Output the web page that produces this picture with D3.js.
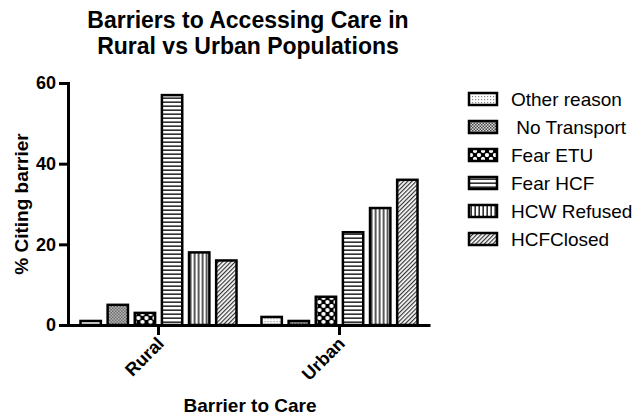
<!DOCTYPE html>
<html>
<head>
<meta charset="utf-8">
<script src="https://cdn.jsdelivr.net/npm/d3@7"></script>
<style>
  body { margin: 0; background: #fff; }
  text { font-family: "Liberation Sans", Arial, sans-serif; }
</style>
</head>
<body>
<div id="chart"></div>
<script>
// data
var groups = ["Rural", "Urban"];
var series = ["Other reason", " No Transport", "Fear ETU", "Fear HCF", "HCW Refused", "HCFClosed"];
var rural = [1, 5, 3, 57, 18, 16];
var urban = [2, 1, 7, 23, 29, 36];
var yTicks = [0, 20, 40, 60];

function init(){
    var w = 640, h = 419;
    var left = 68, right = 430, top = 83, bottom = 325;

    var svg = d3.select("#chart").append("svg")
        .attr("width", w).attr("height", h);

    // fill patterns, one per series
    var defs = svg.append("defs");
    var pats = ["p0", "p1", "p2", "p3", "p4", "p5"];

    var p = defs.append("pattern").attr("id", "p0").attr("patternUnits", "userSpaceOnUse")
        .attr("width", 3).attr("height", 3);
    p.append("rect").attr("width", 3).attr("height", 3).attr("fill", "#fff");
    p.append("rect").attr("width", 1.2).attr("height", 1.2).attr("fill", "#888");

    p = defs.append("pattern").attr("id", "p1").attr("patternUnits", "userSpaceOnUse")
        .attr("width", 3).attr("height", 3);
    p.append("rect").attr("width", 3).attr("height", 3).attr("fill", "#ddd");
    p.append("rect").attr("width", 1.5).attr("height", 1.5).attr("fill", "#444");
    p.append("rect").attr("x", 1.5).attr("y", 1.5).attr("width", 1.5).attr("height", 1.5).attr("fill", "#444");

    p = defs.append("pattern").attr("id", "p2").attr("patternUnits", "userSpaceOnUse")
        .attr("width", 8).attr("height", 8);
    p.append("rect").attr("width", 8).attr("height", 8).attr("fill", "#000");
    p.append("circle").attr("cx", 2).attr("cy", 6).attr("r", 2.1).attr("fill", "#fff");
    p.append("circle").attr("cx", 6).attr("cy", 2).attr("r", 2.1).attr("fill", "#fff");

    p = defs.append("pattern").attr("id", "p3").attr("patternUnits", "userSpaceOnUse")
        .attr("width", 4).attr("height", 4);
    p.append("rect").attr("width", 4).attr("height", 4).attr("fill", "#fff");
    p.append("rect").attr("y", 1.5).attr("width", 4).attr("height", 1.3).attr("fill", "#000");

    p = defs.append("pattern").attr("id", "p4").attr("patternUnits", "userSpaceOnUse")
        .attr("width", 4).attr("height", 4);
    p.append("rect").attr("width", 4).attr("height", 4).attr("fill", "#fff");
    p.append("rect").attr("x", 1.5).attr("width", 1.3).attr("height", 4).attr("fill", "#000");

    p = defs.append("pattern").attr("id", "p5").attr("patternUnits", "userSpaceOnUse")
        .attr("width", 3).attr("height", 3).attr("patternTransform", "rotate(45)");
    p.append("rect").attr("width", 3).attr("height", 3).attr("fill", "#fff");
    p.append("rect").attr("width", 1.2).attr("height", 3).attr("fill", "#333");

    var x0 = d3.scaleBand().domain(groups).range([left, right])
        .paddingInner(0.138).paddingOuter(0.069);
    var x1 = d3.scaleBand().domain(series).range([0, x0.bandwidth()])
        .paddingInner(0.25).paddingOuter(0);
    var y = d3.scaleLinear().domain([0, 60]).range([bottom, top]);

    var data = [rural, urban];

    var g = svg.selectAll("g.grp")
        .data(groups)
        .enter()
        .append("g")
        .attr("class", "grp")
        .attr("transform", function(d){ return "translate(" + x0(d) + ",0)"; });

    g.selectAll("rect")
        .data(function(d, i){
            return series.map(function(s, j){ return {s: s, j: j, v: data[i][j]}; });
        })
        .enter()
        .append("rect")
        .attr("x", function(d){ return x1(d.s); })
        .attr("y", function(d){ return y(d.v); })
        .attr("width", x1.bandwidth())
        .attr("height", function(d){ return bottom - y(d.v); })
        .attr("fill", function(d){ return "url(#" + pats[d.j] + ")"; })
        .attr("stroke", "#000")
        .attr("stroke-width", 2.5);

    // y axis
    var yAxis = svg.append("g")
        .attr("transform", "translate(" + left + ",0)")
        .call(d3.axisLeft(y).tickValues(yTicks).tickSize(9).tickPadding(3));
    yAxis.select(".domain").attr("stroke-width", 3);
    yAxis.selectAll(".tick line").attr("stroke-width", 3);
    yAxis.selectAll("text")
        .style("font-size", "18px").style("font-weight", "bold")
        .attr("fill", "#000");

    // x axis
    var xAxis = svg.append("g")
        .attr("transform", "translate(0," + bottom + ")")
        .call(d3.axisBottom(x0).tickSize(10).tickSizeOuter(0));
    xAxis.select(".domain").attr("stroke-width", 3);
    xAxis.selectAll(".tick line").attr("stroke-width", 3);
    xAxis.selectAll("text")
        .style("font-size", "18px").style("font-weight", "bold")
        .attr("fill", "#000")
        .attr("text-anchor", "end")
        .attr("transform", "translate(-7,6) rotate(-45)")
        .attr("dy", "0.35em");

    // titles
    var title = svg.append("text")
        .attr("text-anchor", "middle")
        .style("font-size", "23px").style("font-weight", "bold");
    title.append("tspan").attr("x", 248).attr("y", 28).text("Barriers to Accessing Care in");
    title.append("tspan").attr("x", 248).attr("y", 54).text("Rural vs Urban Populations");

    svg.append("text")
        .attr("transform", "translate(28,204) rotate(-90)")
        .attr("text-anchor", "middle")
        .style("font-size", "19px").style("font-weight", "bold")
        .text("% Citing barrier");

    svg.append("text")
        .attr("x", 250).attr("y", 412)
        .attr("text-anchor", "middle")
        .style("font-size", "19px").style("font-weight", "bold")
        .text("Barrier to Care");

    // legend
    var leg = svg.selectAll("g.leg")
        .data(series)
        .enter()
        .append("g")
        .attr("class", "leg")
        .attr("transform", function(d, i){ return "translate(469," + (93 + i * 28) + ")"; });

    leg.append("rect")
        .attr("width", 28).attr("height", 12)
        .attr("fill", function(d, i){ return "url(#" + pats[i] + ")"; })
        .attr("stroke", "#000").attr("stroke-width", 2.5);

    leg.append("text")
        .attr("x", 42).attr("y", 13)
        .style("font-size", "19px")
        .style("white-space", "pre")
        .attr("xml:space", "preserve")
        .text(function(d){ return d; });
}

window.onload = init;
</script>
</body>
</html>
